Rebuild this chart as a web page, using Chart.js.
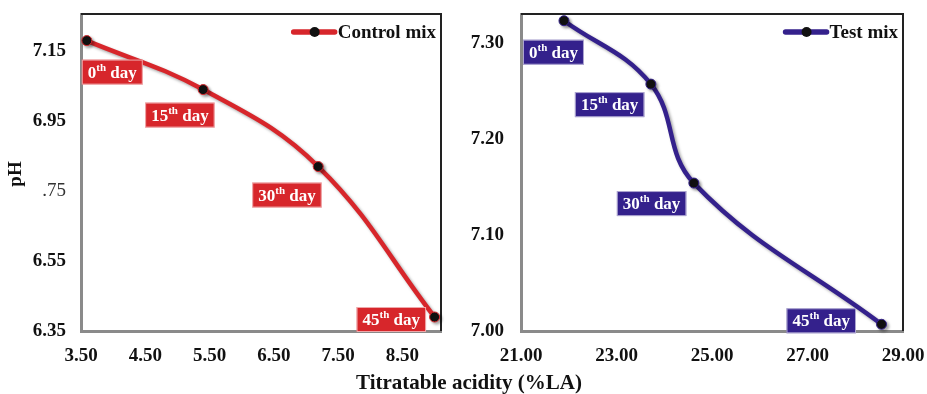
<!DOCTYPE html>
<html>
<head>
<meta charset="utf-8">
<script src="https://cdn.jsdelivr.net/npm/chart.js@4"></script>
<style>
  html, body { margin: 0; padding: 0; background: #fff; }
  body { width: 927px; height: 394px; position: relative; overflow: hidden; }
  .panel { position: absolute; top: 0; height: 394px; }
  #left  { left: 0;     width: 460px; }
  #right { left: 460px; width: 467px; }
  #xTitle {
    position: absolute; left: 0; width: 938px; top: 370px; text-align: center;
    font: bold 21px "Liberation Serif", "Times New Roman", serif; color: #111;
  }
</style>
</head>
<body>
<div class="panel" id="left"><canvas id="cLeft"></canvas></div>
<div class="panel" id="right"><canvas id="cRight"></canvas></div>
<div id="xTitle">Titratable acidity (%LA)</div>
<script>
  // --- data ---
  const DAYS = ['0', '15', '30', '45'];

  const CONTROL_ACIDITY = [3.59, 5.40, 7.19, 9.00];
  const CONTROL_PH      = [7.18, 7.04, 6.82, 6.39];
  const TEST_ACIDITY    = [21.90, 23.72, 24.62, 28.55];
  const TEST_PH         = [7.323, 7.257, 7.154, 7.007];

  const CONTROL_X_TICKS  = [3.5, 4.5, 5.5, 6.5, 7.5, 8.5];
  const CONTROL_Y_TICKS  = [6.35, 6.55, 6.75, 6.95, 7.15];
  const CONTROL_Y_LABELS = ['6.35', '6.55', '.75', '6.95', '7.15'];
  const TEST_X_TICKS     = [21, 23, 25, 27, 29];
  const TEST_Y_TICKS     = [7.00, 7.10, 7.20, 7.30];

  const SERIF = '"Liberation Serif", "Times New Roman", serif';
  const RED = '#d7262b';
  const BLUE = '#34218c';

  // day tags: box offsets from the point, in px
  const CONTROL_TAGS = [[-5, 19], [-58, 13], [-66, 16], [-78, -10]];
  const TEST_TAGS    = [[-41, 19], [-76, 8], [-77, 8], [-95, -16]];

  const zip = (xs, ys) => xs.map((x, i) => ({ x, y: ys[i] }));

  const framePlugin = {
    id: 'frame',
    beforeDatasetsDraw(chart) {
      const a = chart.chartArea, ctx = chart.ctx;
      ctx.save();
      ctx.strokeStyle = '#222';
      ctx.lineWidth = 2;
      ctx.beginPath();
      ctx.moveTo(a.left, a.top); ctx.lineTo(a.right, a.top); ctx.lineTo(a.right, a.bottom);
      ctx.stroke();
      ctx.restore();
    },
    beforeDatasetDraw(chart) {
      const ctx = chart.ctx;
      ctx.save();
      ctx.shadowColor = 'rgba(0,0,0,0.35)';
      ctx.shadowOffsetX = 2;
      ctx.shadowOffsetY = 2;
      ctx.shadowBlur = 3;
    },
    afterDatasetDraw(chart) { chart.ctx.restore(); },
  };

  const tagPlugin = {
    id: 'dayTags',
    afterDatasetsDraw(chart, args, opts) {
      const ctx = chart.ctx;
      const pts = chart.getDatasetMeta(0).data;
      const big = 'bold 17px ' + SERIF, small = 'bold 11px ' + SERIF;
      ctx.save();
      DAYS.forEach((d, i) => {
        const p = pts[i];
        const [dx, dy] = opts.offsets[i];
        ctx.font = big; const w1 = ctx.measureText(d).width;
        ctx.font = small; const w2 = ctx.measureText('th').width;
        ctx.font = big; const w3 = ctx.measureText(' day').width;
        const w = w1 + w2 + w3 + 12, h = 25;
        const x = p.x + dx, y = p.y + dy;
        ctx.fillStyle = opts.color;
        ctx.fillRect(x, y, w, h);
        ctx.strokeStyle = 'rgba(255,255,255,0.6)';
        ctx.lineWidth = 1;
        ctx.strokeRect(x + 0.5, y + 0.5, w - 1, h - 1);
        ctx.fillStyle = '#fff';
        ctx.textBaseline = 'alphabetic';
        ctx.textAlign = 'left';
        const base = y + 18;
        ctx.font = big;  ctx.fillText(d, x + 6, base);
        ctx.font = small; ctx.fillText('th', x + 6 + w1, base - 7);
        ctx.font = big;  ctx.fillText(' day', x + 6 + w1 + w2, base);
      });
      ctx.restore();
    },
  };

  const legendPlugin = {
    id: 'lineLegend',
    afterDraw(chart) {
      const ctx = chart.ctx, a = chart.chartArea;
      const label = chart.data.datasets[0].label;
      const color = chart.data.datasets[0].borderColor;
      ctx.save();
      ctx.font = 'bold 19px ' + SERIF;
      const tw = ctx.measureText(label).width;
      const tx = a.right - 5 - tw, ty = a.top + 18;
      ctx.strokeStyle = color; ctx.lineWidth = 5.5; ctx.lineCap = 'round';
      ctx.beginPath(); ctx.moveTo(tx - 44, ty); ctx.lineTo(tx - 3, ty); ctx.stroke();
      ctx.fillStyle = '#111';
      ctx.beginPath(); ctx.arc(tx - 23, ty, 5, 0, Math.PI * 2); ctx.fill();
      ctx.fillStyle = '#111'; ctx.textBaseline = 'middle';
      ctx.fillText(label, tx, ty + 1);
      ctx.restore();
    },
  };

  const yTitlePlugin = {
    id: 'yTitle',
    afterDraw(chart, args, opts) {
      if (!opts.text) return;
      const ctx = chart.ctx;
      ctx.save();
      ctx.translate(16, 174);
      ctx.rotate(-Math.PI / 2);
      ctx.font = 'bold 19px ' + SERIF;
      ctx.fillStyle = '#111';
      ctx.textAlign = 'center'; ctx.textBaseline = 'middle';
      ctx.fillText(opts.text, 0, 0);
      ctx.restore();
    },
  };

  function makeChart(id, cfg) {
    const yLabels = cfg.yLabels || cfg.yTicks.map((v) => v.toFixed(2));
    return new Chart(document.getElementById(id), {
      type: 'line',
      data: {
        datasets: [{
          label: cfg.label,
          data: zip(cfg.xs, cfg.ys),
          borderColor: cfg.color,
          borderWidth: 4.5,
          tension: 0.4,
          pointRadius: 5,
          pointBackgroundColor: '#111',
          pointBorderColor: cfg.color,
          pointBorderWidth: 1,
          clip: false,
        }],
      },
      options: {
        responsive: true, maintainAspectRatio: false, animation: false,
        layout: { autoPadding: false, padding: { top: 14, right: cfg.padRight, left: 0, bottom: 0 } },
        plugins: {
          legend: { display: false },
          title: { display: false },
          tooltip: { enabled: false },
          dayTags: { offsets: cfg.tags, color: cfg.color },
          yTitle: { text: cfg.yTitle },
        },
        scales: {
          x: {
            type: 'linear', min: cfg.xMin, max: cfg.xMax,
            afterBuildTicks: (s) => { s.ticks = cfg.xTicks.map((v) => ({ value: v })); },
            afterFit: (s) => { s.height = 63; s.paddingLeft = 0; s.paddingRight = 0; },
            grid: { display: false, drawTicks: false },
            border: { display: true, color: '#8a8a8a', width: 3 },
            ticks: {
              color: '#111', padding: 14, maxRotation: 0, autoSkip: false,
              font: { family: SERIF, size: 19, weight: 'bold' },
              callback: (v) => Number(v).toFixed(2),
            },
          },
          y: {
            type: 'linear', min: cfg.yMin, max: cfg.yMax,
            afterBuildTicks: (s) => { s.ticks = cfg.yTicks.map((v) => ({ value: v })); },
            afterFit: (s) => { s.width = cfg.yWidth; s.paddingTop = 0; s.paddingBottom = 0; },
            grid: { display: false, drawTicks: false },
            border: { display: true, color: '#8a8a8a', width: 3 },
            ticks: {
              color: (c) => (yLabels[c.index] === '.75' ? '#333' : '#111'),
              padding: cfg.yPad, autoSkip: false,
              font: (c) => ({ family: SERIF, size: 19, weight: yLabels[c.index] === '.75' ? 'normal' : 'bold' }),
              callback: (v, i) => yLabels[i],
            },
          },
        },
      },
      plugins: [framePlugin, tagPlugin, legendPlugin, yTitlePlugin],
    });
  }

  makeChart('cLeft', {
    label: 'Control mix', color: RED,
    xs: CONTROL_ACIDITY, ys: CONTROL_PH,
    xMin: 3.5, xMax: 9.1, xTicks: CONTROL_X_TICKS,
    yMin: 6.35, yMax: 7.256, yTicks: CONTROL_Y_TICKS, yLabels: CONTROL_Y_LABELS,
    yWidth: 81, yPad: 15, padRight: 19, tags: CONTROL_TAGS, yTitle: 'pH',
  });

  makeChart('cRight', {
    label: 'Test mix', color: BLUE,
    xs: TEST_ACIDITY, ys: TEST_PH,
    xMin: 21, xMax: 29, xTicks: TEST_X_TICKS,
    yMin: 7.0, yMax: 7.33, yTicks: TEST_Y_TICKS,
    yWidth: 61, yPad: 17, padRight: 24, tags: TEST_TAGS, yTitle: '',
  });
</script>
</body>
</html>
